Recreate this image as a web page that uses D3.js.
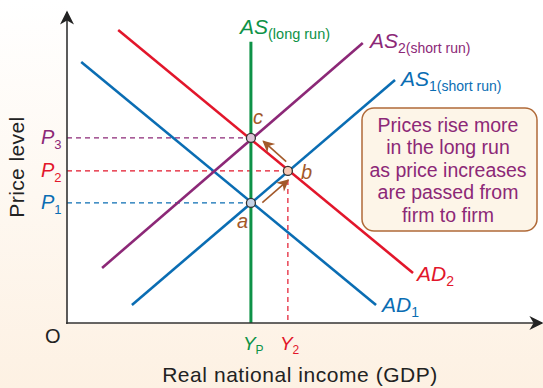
<!DOCTYPE html>
<html>
<head>
<meta charset="utf-8">
<script src="https://cdn.jsdelivr.net/npm/d3@7"></script>
<style>
  html, body { margin: 0; padding: 0; }
  svg { display: block; font-family: "Liberation Sans", Arial, sans-serif; }
</style>
</head>
<body>
<svg id="chart" width="543" height="388"></svg>
<script>
// Aggregate supply / aggregate demand: price rises as cost increases pass from firm to firm.
// Income and price measured in arbitrary units (0–100) on each axis.
const curveNames = ["AD1", "AD2", "AS1", "AS2"];
const curveX = [[3.0, 65.2], [10.8, 73.0], [13.7, 69.2], [7.4, 62.4]];
const curveY = [[83.9, 5.8], [94.2, 16.1], [5.8, 78.1], [17.7, 90.0]];
const curveColors = ["#0a6db3", "#e2162b", "#0a6db3", "#8c2877"];

const longRunIncome = 38.8;      // Y_P
const longRunTop = 90.4;
const shortRunIncome = 46.6;     // Y2
const priceLevels = [38.6, 48.9, 59.5];   // P1, P2, P3
const priceColors = ["#0a6db3", "#e2162b", "#8c2877"];
const pointNames = ["a", "b", "c"];
const pointX = [38.8, 46.6, 38.8];
const pointY = [38.6, 48.9, 59.5];
const pointFill = ["#c5d3e6", "#f7c9b5", "#dcc3d6"];

const noteLines = ["Prices rise more", "in the long run", "as price increases", "are passed from", "firm to firm"];

const W = 543, H = 388;
const svg = d3.select("#chart");
const x = d3.scaleLinear().domain([0, 100]).range([67, 541]);
const y = d3.scaleLinear().domain([0, 100]).range([323, 12]);

const defs = svg.append("defs");
const grad = defs.append("linearGradient").attr("id", "bg").attr("x1", 0).attr("y1", 0).attr("x2", 0).attr("y2", 1);
grad.append("stop").attr("offset", "0%").attr("stop-color", "#ffffff");
grad.append("stop").attr("offset", "100%").attr("stop-color", "#fdf1e3");

function arrowMarker(id, color, w, h) {
  defs.append("marker").attr("id", id)
    .attr("viewBox", "0 0 10 10").attr("refX", 9).attr("refY", 5)
    .attr("markerWidth", w).attr("markerHeight", h).attr("orient", "auto")
    .attr("markerUnits", "userSpaceOnUse")
    .append("path").attr("d", "M0,0 L10,5 L0,10 L3,5 Z").attr("fill", color);
}
arrowMarker("axisArrow", "#222", 16, 14);
arrowMarker("moveArrow", "#a3592a", 14, 12);

// backgrounds
svg.append("rect").attr("width", W).attr("height", H).attr("fill", "url(#bg)");
svg.append("rect").attr("x", x(0)).attr("y", 0).attr("width", W - x(0)).attr("height", y(0))
  .attr("fill", "#ffffff");

// dashed guide lines
const guides = svg.append("g").attr("stroke-width", 1.2).attr("stroke-dasharray", "5,4").attr("fill", "none");
priceLevels.forEach((p, i) => {
  const px = i === 1 ? shortRunIncome : longRunIncome;
  guides.append("line").attr("x1", x(0)).attr("x2", x(px)).attr("y1", y(p)).attr("y2", y(p))
    .attr("stroke", priceColors[i]);
});
guides.append("line").attr("x1", x(shortRunIncome)).attr("x2", x(shortRunIncome))
  .attr("y1", y(priceLevels[1])).attr("y2", y(0)).attr("stroke", "#e2162b");

// long-run AS
svg.append("line").attr("x1", x(longRunIncome)).attr("x2", x(longRunIncome))
  .attr("y1", y(0)).attr("y2", y(longRunTop)).attr("stroke", "#0e9247").attr("stroke-width", 3);

// curves
const line = d3.line().x(d => x(d[0])).y(d => y(d[1]));
curveNames.forEach((n, i) => {
  const pts = [[curveX[i][0], curveY[i][0]], [curveX[i][1], curveY[i][1]]];
  svg.append("path").attr("d", line(pts)).attr("stroke", curveColors[i])
    .attr("stroke-width", 2.6).attr("fill", "none");
});

// axes
svg.append("line").attr("x1", x(0)).attr("x2", x(0)).attr("y1", y(0) + 1).attr("y2", 12)
  .attr("stroke", "#333").attr("stroke-width", 1.6).attr("marker-end", "url(#axisArrow)");
svg.append("line").attr("x1", x(0) - 1).attr("x2", 542).attr("y1", y(0)).attr("y2", y(0))
  .attr("stroke", "#333").attr("stroke-width", 1.6).attr("marker-end", "url(#axisArrow)");

// movement arrows a -> b and b -> c, offset to the side of the curves
function moveArrow(from, to, s0, s1, ox, oy) {
  const x0 = x(pointX[from]), y0 = y(pointY[from]);
  const x1 = x(pointX[to]), y1 = y(pointY[to]);
  svg.append("line")
    .attr("x1", x0 + (x1 - x0) * s0 + ox).attr("y1", y0 + (y1 - y0) * s0 + oy)
    .attr("x2", x0 + (x1 - x0) * s1 + ox).attr("y2", y0 + (y1 - y0) * s1 + oy)
    .attr("stroke", "#a3592a").attr("stroke-width", 1.6).attr("marker-end", "url(#moveArrow)");
}
moveArrow(0, 1, 0.2, 0.9, 4, 6);
moveArrow(1, 2, 0.1, 0.72, 2, -6);

// equilibrium points
pointNames.forEach((n, i) => {
  svg.append("circle").attr("cx", x(pointX[i])).attr("cy", y(pointY[i])).attr("r", 4.5)
    .attr("fill", pointFill[i]).attr("stroke", "#333").attr("stroke-width", 1.3);
});
const ptLabelDx = [-14, 13, 2];
const ptLabelDy = [25, 8, -14];
pointNames.forEach((n, i) => {
  svg.append("text").attr("x", x(pointX[i]) + ptLabelDx[i]).attr("y", y(pointY[i]) + ptLabelDy[i])
    .attr("fill", "#a3592a").attr("font-size", 20).attr("font-style", "italic").text(n);
});

// curve labels with subscripts
function subLabel(px, py, main, sub, color, subSize) {
  const t = svg.append("text").attr("x", px).attr("y", py).attr("fill", color)
    .attr("font-size", 21);
  t.append("tspan").attr("font-style", "italic").text(main);
  t.append("tspan").attr("font-size", subSize).attr("dy", 5).text(sub);
}
subLabel(240, 34, "AS", "(long run)", "#0e9247", 14.5);
subLabel(370, 48, "AS", "2(short run)", "#8c2877", 14);
subLabel(401, 86, "AS", "1(short run)", "#0a6db3", 14);
subLabel(417, 281, "AD", "2", "#e2162b", 14);
subLabel(382, 312, "AD", "1", "#0a6db3", 14);

// price level ticks
const pNames = ["1", "2", "3"];
priceLevels.forEach((p, i) => {
  const t = svg.append("text").attr("x", 41).attr("y", y(p) + 6).attr("fill", priceColors[i])
    .attr("font-size", 20);
  t.append("tspan").attr("font-style", "italic").text("P");
  t.append("tspan").attr("font-size", 13).attr("dy", 5).text(pNames[i]);
});

// income ticks
function incomeTick(val, main, sub, color) {
  const t = svg.append("text").attr("x", x(val) - 8).attr("y", 350).attr("fill", color)
    .attr("font-size", 19);
  t.append("tspan").attr("font-style", "italic").text(main);
  t.append("tspan").attr("font-size", 12).attr("dy", 4).text(sub);
}
incomeTick(longRunIncome, "Y", "P", "#0e9247");
incomeTick(shortRunIncome, "Y", "2", "#e2162b");

svg.append("text").attr("x", 45).attr("y", 343).attr("fill", "#222").attr("font-size", 20).text("O");

// axis titles
svg.append("text").attr("x", 300).attr("y", 382).attr("text-anchor", "middle")
  .attr("fill", "#222").attr("font-size", 21).attr("letter-spacing", 0.55)
  .text("Real national income (GDP)");
svg.append("text").attr("transform", "translate(24,167) rotate(-90)").attr("text-anchor", "middle")
  .attr("fill", "#222").attr("font-size", 21).attr("letter-spacing", 0.4).text("Price level");

// explanatory note
const note = svg.append("g");
note.append("rect").attr("x", 362).attr("y", 108).attr("width", 175).attr("height", 123)
  .attr("rx", 12).attr("fill", "#fdf5e8").attr("stroke", "#b06a38").attr("stroke-width", 1.5);
noteLines.forEach((l, i) => {
  note.append("text").attr("x", 448).attr("y", 132 + i * 22.4).attr("text-anchor", "middle")
    .attr("fill", "#8c2877").attr("font-size", 19.5).text(l);
});
</script>
</body>
</html>
